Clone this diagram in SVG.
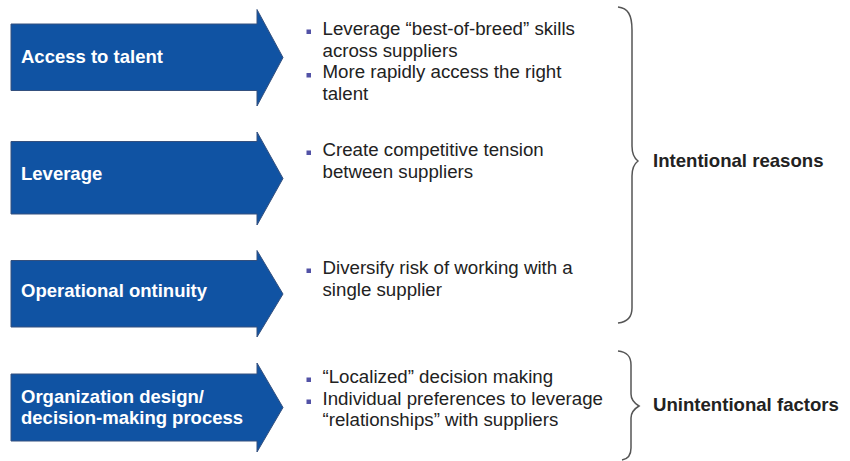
<svg xmlns="http://www.w3.org/2000/svg" width="850" height="461" viewBox="0 0 850 461">
  <style>
    .arrow { fill: #1053a3; stroke: #34507e; stroke-width: 1; }
    .label { font-family: "Liberation Sans", Arial, sans-serif; font-weight: bold; font-size: 18.5px; fill: #ffffff; }
    .item { font-family: "Liberation Sans", Arial, sans-serif; font-size: 18.7px; fill: #222222; }
    .bullet { fill: #5252a6; }
    .brace { fill: none; stroke: #555555; stroke-width: 1.5; }
    .group-label { font-family: "Liberation Sans", Arial, sans-serif; font-weight: bold; font-size: 18.6px; fill: #222222; }
  </style>

  <!-- Driver arrows -->
  <g id="access-to-talent">
    <path class="arrow" d="M11,24 H257 V9.5 L283,57.5 L257,106 V90.5 H11 Z"/>
    <text class="label" x="21" y="63">Access to talent</text>
  </g>
  <g id="leverage">
    <path class="arrow" d="M11,141.5 H257 V132 L283,178.5 L257,225 V214 H11 Z"/>
    <text class="label" x="21" y="180">Leverage</text>
  </g>
  <g id="operational-continuity">
    <path class="arrow" d="M11,260.5 H257 V250.5 L283,294 L257,337 V327 H11 Z"/>
    <text class="label" x="21" y="296.5">Operational ontinuity</text>
  </g>
  <g id="organization-design">
    <path class="arrow" d="M11,374 H257 V363 L283,407.5 L257,452 V441 H11 Z"/>
    <text class="label" x="21" y="402.5">Organization design/</text>
    <text class="label" x="21" y="424">decision-making process</text>
  </g>

  <!-- Bullet lists -->
  <g id="talent-points">
    <rect class="bullet" x="306.5" y="29.5" width="4.5" height="4.5"/>
    <text class="item" x="322.5" y="34.5">Leverage “best-of-breed” skills</text>
    <text class="item" x="322.5" y="56.5">across suppliers</text>
    <rect class="bullet" x="306.5" y="73" width="4.5" height="4.5"/>
    <text class="item" x="322.5" y="78">More rapidly access the right</text>
    <text class="item" x="322.5" y="100">talent</text>
  </g>
  <g id="leverage-points">
    <rect class="bullet" x="306.5" y="150.5" width="4.5" height="4.5"/>
    <text class="item" x="322.5" y="155.5">Create competitive tension</text>
    <text class="item" x="322.5" y="177.5">between suppliers</text>
  </g>
  <g id="continuity-points">
    <rect class="bullet" x="306.5" y="268.5" width="4.5" height="4.5"/>
    <text class="item" x="322.5" y="273.5">Diversify risk of working with a</text>
    <text class="item" x="322.5" y="295.5">single supplier</text>
  </g>
  <g id="organization-points">
    <rect class="bullet" x="306.5" y="377.5" width="4.5" height="4.5"/>
    <text class="item" x="322.5" y="382.5">“Localized” decision making</text>
    <rect class="bullet" x="306.5" y="399.5" width="4.5" height="4.5"/>
    <text class="item" x="322.5" y="404.5">Individual preferences to leverage</text>
    <text class="item" x="322.5" y="426">“relationships” with suppliers</text>
  </g>

  <!-- Grouping braces -->
  <g id="connectors">
    <path class="brace" d="M618,7 C628,8 632,15 632,30 L632,146 C632,154 634,158 638,161 C634,164 632,168 632,176 L632,308 C632,317 628,322 618,323"/>
    <path class="brace" d="M618,351 C627,352 631,356 631,365 L631,394 C631,400 634,403 639,406 C634,409 631,412 631,418 L631,448 C631,455 628,459 622,460"/>
  </g>

  <g id="intentional-reasons">
    <text class="group-label" x="653" y="167">Intentional reasons</text>
  </g>
  <g id="unintentional-factors">
    <text class="group-label" x="653" y="411">Unintentional factors</text>
  </g>
</svg>
